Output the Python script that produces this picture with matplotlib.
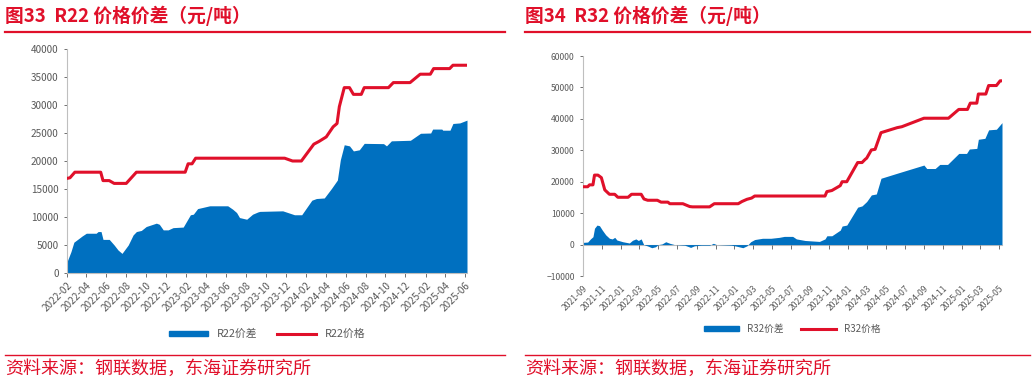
import numpy as np
import pandas as pd
import matplotlib
matplotlib.use("Agg")
import matplotlib.pyplot as plt
import matplotlib.dates as mdates
from matplotlib.lines import Line2D
from matplotlib.patches import Patch

plt.rcParams['font.family'] = ['Noto Sans CJK SC', 'DejaVu Sans']

RED = '#E0102A'
BLUE = '#0070C0'
GRAY = '#595959'

# R22 价格
r22_price_dates = ['2022-02-01', '2022-02-10', '2022-02-25', '2022-05-15', '2022-05-22', '2022-06-10',
                   '2022-06-25', '2022-08-01', '2022-09-01', '2023-01-28', '2023-02-06', '2023-02-18',
                   '2023-03-01', '2023-11-28', '2023-12-22', '2024-01-18', '2024-02-25', '2024-03-12',
                   '2024-04-03', '2024-04-24', '2024-05-06', '2024-05-13', '2024-05-28', '2024-06-13',
                   '2024-06-25', '2024-07-19', '2024-07-28', '2024-10-10', '2024-10-25', '2024-12-15',
                   '2025-01-15', '2025-02-15', '2025-02-25', '2025-04-15', '2025-04-25', '2025-06-07']
r22_price = [16900, 17000, 18000, 18000, 16500, 16500,
             16000, 16000, 18000, 18000, 19500, 19500,
             20500, 20500, 20000, 20000, 23000, 23500,
             24300, 26100, 26700, 29700, 33100, 33100,
             31900, 31900, 33100, 33100, 34000, 34000,
             35500, 35500, 36500, 36500, 37100, 37100]

# R22 价差
r22_spread_dates = ['2022-02-01', '2022-02-13', '2022-02-22', '2022-03-10', '2022-03-19', '2022-04-01',
                    '2022-05-01', '2022-05-07', '2022-05-16', '2022-05-22', '2022-06-10', '2022-06-25',
                    '2022-07-07', '2022-07-19', '2022-08-07', '2022-08-22', '2022-09-01', '2022-09-16',
                    '2022-10-01', '2022-11-01', '2022-11-10', '2022-11-22', '2022-12-07', '2022-12-22',
                    '2023-01-22', '2023-02-13', '2023-02-22', '2023-03-07', '2023-03-22', '2023-04-13',
                    '2023-06-07', '2023-06-22', '2023-07-04', '2023-07-13', '2023-08-04', '2023-08-22',
                    '2023-09-07', '2023-09-13', '2023-11-22', '2023-12-28', '2024-01-19', '2024-02-19',
                    '2024-03-04', '2024-03-28', '2024-04-19', '2024-05-07', '2024-05-16', '2024-05-28',
                    '2024-06-13', '2024-06-25', '2024-07-13', '2024-07-28', '2024-09-25', '2024-10-04',
                    '2024-10-19', '2024-12-16', '2025-01-16', '2025-02-16', '2025-02-22', '2025-03-22',
                    '2025-03-25', '2025-04-16', '2025-04-25', '2025-05-16', '2025-06-07']
r22_spread = [2000, 3800, 5500, 6200, 6600, 7100,
              7100, 7400, 7400, 6000, 6000, 5000,
              4100, 3500, 5000, 6800, 7400, 7600,
              8300, 8900, 8700, 7700, 7700, 8100,
              8200, 10400, 10500, 11500, 11700, 12000,
              12000, 11400, 10800, 9900, 9600, 10500,
              10900, 11000, 11100, 10400, 10400, 13000,
              13300, 13400, 15100, 16600, 20200, 22900,
              22700, 21800, 22000, 23150, 23100, 22700,
              23600, 23700, 24950, 25000, 25700, 25700,
              25500, 25500, 26700, 26800, 27300]

# R32 价格
r32_price_dates = ['2021-09-01', '2021-09-16', '2021-09-22', '2021-10-03', '2021-10-08', '2021-10-19',
                   '2021-10-30', '2021-11-10', '2021-11-25', '2021-12-12', '2021-12-22', '2022-01-24',
                   '2022-02-04', '2022-03-07', '2022-03-16', '2022-03-28', '2022-04-28', '2022-05-10',
                   '2022-06-01', '2022-06-07', '2022-07-19', '2022-08-10', '2022-08-19', '2022-10-13',
                   '2022-10-28', '2023-01-13', '2023-01-25', '2023-02-10', '2023-02-25', '2023-03-07',
                   '2023-10-19', '2023-10-25', '2023-11-10', '2023-12-07', '2023-12-13', '2023-12-28',
                   '2024-02-01', '2024-02-15', '2024-02-25', '2024-03-01', '2024-03-16', '2024-03-28',
                   '2024-04-16', '2024-06-07', '2024-06-22', '2024-09-01', '2024-11-19', '2024-12-22',
                   '2025-01-19', '2025-01-28', '2025-02-18', '2025-02-23', '2025-03-19', '2025-03-28',
                   '2025-04-22', '2025-05-04', '2025-05-10']
r32_price = [18400, 18400, 19000, 19000, 22100, 22100,
             21300, 17400, 16000, 16000, 15050, 15050,
             16000, 16000, 14500, 14100, 14100, 13500,
             13500, 13000, 13000, 12100, 12000, 12000,
             13000, 13000, 13700, 14400, 14800, 15450,
             15450, 16850, 17200, 18750, 20000, 20000,
             26100, 26100, 27100, 27500, 30100, 30300,
             35600, 37200, 37500, 40200, 40200, 43000,
             43000, 45000, 45000, 47900, 47900, 50600,
             50600, 52100, 52100]

# R32 价差
r32_spread_dates = ['2021-09-01', '2021-09-16', '2021-09-25', '2021-10-03', '2021-10-08', '2021-10-16',
                    '2021-10-24', '2021-11-02', '2021-11-13', '2021-11-25', '2021-12-04', '2021-12-12',
                    '2021-12-19', '2022-01-07', '2022-01-28', '2022-02-07', '2022-02-18', '2022-02-26',
                    '2022-03-07', '2022-03-15', '2022-03-28', '2022-04-10', '2022-04-22', '2022-05-01',
                    '2022-05-13', '2022-05-25', '2022-06-07', '2022-06-22', '2022-07-25', '2022-08-13',
                    '2022-08-25', '2022-09-16', '2022-10-13', '2022-10-25', '2022-11-04', '2022-12-22',
                    '2023-01-07', '2023-01-28', '2023-02-10', '2023-02-22', '2023-03-07', '2023-04-01',
                    '2023-04-28', '2023-05-25', '2023-06-10', '2023-07-07', '2023-07-19', '2023-08-16',
                    '2023-10-01', '2023-10-19', '2023-10-25', '2023-11-10', '2023-12-07', '2023-12-13',
                    '2023-12-28', '2024-02-01', '2024-02-15', '2024-03-01', '2024-03-16', '2024-04-01',
                    '2024-04-16', '2024-06-07', '2024-09-01', '2024-09-10', '2024-10-07', '2024-10-22',
                    '2024-11-16', '2024-12-22', '2025-01-16', '2025-01-25', '2025-02-18', '2025-02-23',
                    '2025-03-16', '2025-03-28', '2025-04-22', '2025-05-10']
r32_spread = [700, 800, 1800, 2500, 5200, 6200,
              6000, 4600, 3100, 2000, 1800, 2300,
              1450, 900, 500, 1350, 1800, 1300,
              1800, 0, -450, -1000, -700, 0,
              200, 900, 400, 0, -200, -900,
              -400, -200, -200, 400, 0, -200,
              -500, -1000, -400, 900, 1600, 2000,
              2000, 2300, 2600, 2600, 1800, 1300,
              1000, 1800, 2800, 2800, 4600, 5900,
              6200, 11900, 12300, 13700, 15800, 16100,
              21100, 22700, 25300, 24200, 24200, 25500,
              25500, 29000, 29000, 30400, 30600, 33500,
              33800, 36500, 36700, 38800]

panels = [
    dict(title='图33  R22 价格价差（元/吨）', name='R22',
         pd_=r22_price_dates, pv=r22_price, sd=r22_spread_dates, sv=r22_spread,
         ticks=pd.date_range('2022-02-01', '2025-06-01', freq='2MS'),
         ylim=(0, 40000), ystep=5000, rect=[67/1032, 1-273/383, 400/1032, 224/383],
         xl=5, xr=505, tfs=7.2, xfs=7.2, leg_y=-(334-273)/224, lfs=7.8),
    dict(title='图34  R32 价格价差（元/吨）', name='R32',
         pd_=r32_price_dates, pv=r32_price, sd=r32_spread_dates, sv=r32_spread,
         ticks=pd.date_range('2021-09-01', '2025-05-01', freq='2MS'),
         ylim=(-10000, 60000), ystep=10000, rect=[583/1032, 1-276/383, 419/1032, 220/383],
         xl=525, xr=1030, tfs=6.2, xfs=6.2, leg_y=-(329-276)/220, lfs=7.0),
]

fig = plt.figure(figsize=(10.32, 3.83), dpi=100)

for p in panels:
    ax = fig.add_axes(p['rect'])
    sd = pd.to_datetime(p['sd'])
    pdt = pd.to_datetime(p['pd_'])
    ax.fill_between(sd, 0, p['sv'], color=BLUE, linewidth=0, zorder=2)
    ax.plot(pdt, p['pv'], color=RED, linewidth=2.2, zorder=3, solid_joinstyle='round')
    ax.set_xlim(min(sd[0], pdt[0]), max(sd[-1], pdt[-1]))
    ax.set_ylim(*p['ylim'])
    ax.set_yticks(np.arange(p['ylim'][0], p['ylim'][1] + 1, p['ystep']))
    for s in ['top', 'right']:
        ax.spines[s].set_visible(False)
    for s in ['left', 'bottom']:
        ax.spines[s].set_color('#BFBFBF')
        ax.spines[s].set_linewidth(0.8)
    xpad = 2
    if p['ylim'][0] < 0:
        ax.spines['bottom'].set_position(('data', 0))
        ax.spines['bottom'].set_zorder(1)
        xpad = 25
    ax.set_xticks(p['ticks'])
    ax.xaxis.set_major_formatter(mdates.DateFormatter('%Y-%m'))
    ax.tick_params(axis='x', labelsize=p['xfs'], colors=GRAY, length=3, width=0.6, pad=xpad,
                   labelrotation=45)
    ax.tick_params(axis='y', labelsize=p['tfs'], colors=GRAY, length=2, width=0.6, pad=4)
    plt.setp(ax.get_xticklabels(), ha='right', rotation_mode='anchor')
    handles = [Patch(color=BLUE, label=p['name'] + '价差'),
               Line2D([], [], color=RED, linewidth=2.2, label=p['name'] + '价格')]
    ax.legend(handles=handles, loc='center', bbox_to_anchor=(0.5, p['leg_y']), ncol=2,
              frameon=False, fontsize=p['lfs'], handlelength=3.6, handleheight=0.4,
              columnspacing=1.8, labelcolor=GRAY)

    # 标题与来源
    fig.text(p['xl'] / 1032, 1 - 16 / 383, p['title'], color=RED, fontsize=13.5,
             fontweight='bold', va='center', ha='left')
    fig.add_artist(Line2D([p['xl'] / 1032, p['xr'] / 1032], [1 - 32 / 383] * 2,
                          color=RED, linewidth=1.6))
    fig.add_artist(Line2D([p['xl'] / 1032, p['xr'] / 1032], [1 - 355 / 383] * 2,
                          color=RED, linewidth=1.0))
    fig.text(p['xl'] / 1032, 1 - 369 / 383, '资料来源：钢联数据，东海证券研究所', color=RED,
             fontsize=13, va='center', ha='left')

fig.savefig('out.png', dpi=100)
